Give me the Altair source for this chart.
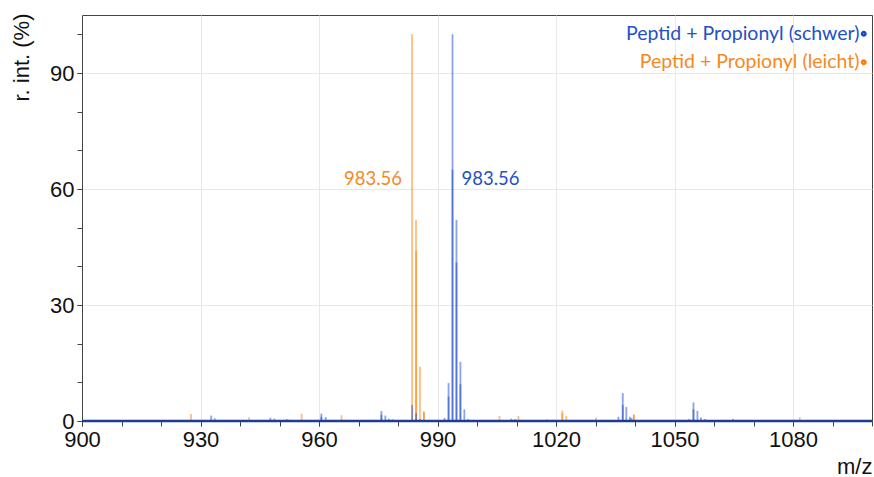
import altair as alt
import pandas as pd

# ---------------- data ----------------
series_names = ["Peptid + Propionyl (schwer)", "Peptid + Propionyl (leicht)"]
series_colors = ["#1a47c9", "#ff7d00"]
text_colors = ["#2450c8", "#f5891f"]

# heavy (schwer) peaks: m/z and relative intensity (%)
heavy_mz = [932.7, 933.6, 944.6, 945.6, 947.7, 948.7, 949.8, 951.8, 952.5,
            960.6, 960.6, 961.7, 975.8, 975.8, 976.8, 977.7, 978.7,
            983.6, 984.6, 985.6, 991.8, 992.8, 992.8, 993.8, 993.8,
            994.8, 994.8, 995.8, 995.8, 996.8, 997.8,
            1003.0, 1008.7, 1009.7, 1015.9, 1017.8,
            1035.8, 1036.9, 1036.9, 1037.8, 1038.7, 1039.1,
            1053.7, 1054.8, 1054.8, 1055.8, 1056.7, 1057.7, 1064.8]
heavy_int = [1.4, 0.7, 0.3, 0.2, 0.85, 0.6, 0.3, 0.5, 0.3,
             1.9, 1.1, 1.0, 2.6, 1.6, 1.4, 0.6, 0.4,
             4.1, 2.0, 0.5, 0.8, 9.8, 6.3, 100.0, 65.0,
             52.0, 41.0, 15.3, 9.5, 3.0, 0.5,
             0.2, 0.6, 0.5, 0.1, 0.4,
             1.1, 7.2, 4.1, 3.6, 1.1, 0.8,
             0.5, 4.8, 3.0, 2.6, 0.9, 0.5, 0.5]

# light (leicht) peaks
light_mz = [927.6, 942.3, 955.6, 965.7, 983.56, 984.56, 984.6, 985.56,
            986.56, 986.56, 1005.7, 1010.5, 1021.6, 1021.6, 1022.6, 1030.1,
            1039.7, 1039.7, 1081.7]
light_int = [1.8, 1.0, 1.9, 1.5, 100.0, 52.0, 44.0, 14.0,
             2.5, 2.2, 1.3, 1.3, 2.7, 2.0, 1.3, 0.9,
             1.8, 1.5, 1.0]

# peak labels
label_mz = [993.8, 983.56]
label_int = [62.5, 62.5]
label_text = ["983.56", "983.56"]

x_domain = [900, 1100]
y_domain = [0, 105]
x_major = list(range(900, 1081, 30))
x_minor = list(range(900, 1101, 10))
y_major = list(range(0, 91, 30))
y_minor = list(range(0, 101, 10))

# ---------------- tables ----------------
peaks = pd.concat([
    pd.DataFrame({"series": series_names[1], "mz": light_mz, "int": light_int}),
    pd.DataFrame({"series": series_names[0], "mz": heavy_mz, "int": heavy_int}),
], ignore_index=True)
peaks["zero"] = 0.0

baseline = pd.DataFrame({"x": [x_domain[0]], "x2": [x_domain[1]], "y": [0.0]})
labels = pd.DataFrame({"series": series_names, "mz": label_mz,
                       "int": label_int, "text": label_text})

xscale = alt.Scale(domain=x_domain, nice=False, zero=False)
yscale = alt.Scale(domain=y_domain, nice=False)

xaxis = alt.Axis(values=x_major, format="d", grid=True, title="m/z", orient="bottom",
                 titleAnchor="end", titleAlign="right", titlePadding=6, tickSize=5,
                 labelPadding=3, labelFlush=False, labelOverlap=False)
yaxis = alt.Axis(values=y_major, format="d", grid=True, title="r. int. (%)", orient="left",
                 titleAnchor="end", titleX=-49, titleY=-2, tickSize=5, labelPadding=3,
                 labelOverlap=False)
xminor = alt.Axis(values=x_minor, labels=False, grid=False, domain=False, title=None,
                  orient="bottom", tickSize=5)
yminor = alt.Axis(values=y_minor, labels=False, grid=False, domain=False, title=None,
                  orient="left", tickSize=5)

color = alt.Color(
    "series:N",
    scale=alt.Scale(domain=series_names, range=series_colors),
    legend=alt.Legend(
        title=None, orient="none", legendX=772, legendY=9,
        symbolType="circle", symbolSize=12, symbolStrokeWidth=2.5,
        symbolOpacity=1, labelAlign="right", labelOffset={"expr": "-14"},
        labelFont="Lato", labelFontSize=19.5, rowPadding=7.5,
        labelColor={"expr": f"datum.label === '{series_names[0]}' ? '{text_colors[0]}' : '{text_colors[1]}'"},
        labelLimit=0,
    ),
)

minor = alt.Chart(baseline).mark_point(opacity=0).encode(
    x=alt.X("x:Q", scale=xscale, axis=xminor),
    y=alt.Y("y:Q", scale=yscale, axis=yminor),
)

rules = alt.Chart(peaks).mark_rule(strokeWidth=1.8, opacity=0.5).encode(
    x=alt.X("mz:Q", scale=xscale, axis=xaxis),
    y=alt.Y("int:Q", scale=yscale, axis=yaxis),
    y2="zero:Q",
    color=color,
)

base_rule = alt.Chart(baseline).mark_rule(color="#1e3c96", strokeWidth=2.5).encode(
    x=alt.X("x:Q", scale=xscale, axis=None), x2="x2:Q",
    y=alt.Y("y:Q", scale=yscale, axis=None)
)

heavy_label = alt.Chart(labels[labels.series == series_names[0]]).mark_text(
    align="left", baseline="middle", dx=9, font="Lato", fontSize=18.5, color=text_colors[0]
).encode(x=alt.X("mz:Q", scale=xscale, axis=None),
         y=alt.Y("int:Q", scale=yscale, axis=None), text="text:N")

light_label = alt.Chart(labels[labels.series == series_names[1]]).mark_text(
    align="right", baseline="middle", dx=-10, font="Lato", fontSize=18.5, color=text_colors[1]
).encode(x=alt.X("mz:Q", scale=xscale, axis=None),
         y=alt.Y("int:Q", scale=yscale, axis=None), text="text:N")

chart = alt.layer(minor, rules, base_rule, heavy_label, light_label).resolve_axis(
    x="independent", y="independent"
).properties(
    width=790, height=406,
    autosize=alt.AutoSizeParams(type="none"),
    padding={"left": 82, "top": 15, "right": 2, "bottom": 56},
).configure_view(
    stroke="#444444", strokeWidth=1
).configure_axis(
    domainColor="#444444", tickColor="#444444", gridColor="#e8e8e8",
    labelFont="Liberation Sans", labelFontSize=22, labelColor="#111111",
    titleFont="Liberation Sans", titleFontSize=22, titleFontWeight="normal",
    titleColor="#111111",
)

chart.save("out.html", embed_options={"renderer": "svg", "actions": False})
